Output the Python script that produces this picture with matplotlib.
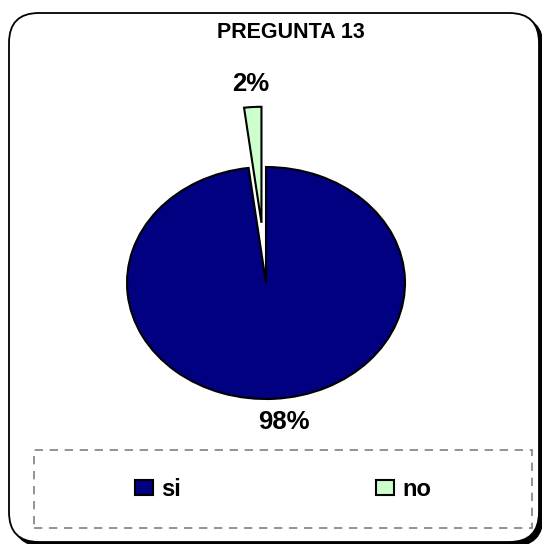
import matplotlib.pyplot as plt
from matplotlib.patches import FancyBboxPatch, Rectangle

# data
categories = ['si', 'no']
values = [98, 2]
colors = ['#000080', '#CCFFCC']
title = 'PREGUNTA 13'

W, H = 542, 544
plt.rcParams['font.family'] = ['Liberation Sans', 'DejaVu Sans']

fig = plt.figure(figsize=(W / 100, H / 100), dpi=100)

# rounded chart border with shadow (runs slightly past the image edge)
shadow = FancyBboxPatch((13 / W, -2 / H), 530 / W, 529 / H,
                        boxstyle='round,pad=0,rounding_size=0.055',
                        transform=fig.transFigure, facecolor='black',
                        edgecolor='black', zorder=-3)
border = FancyBboxPatch((9 / W, 2 / H), 530 / W, 529 / H,
                        boxstyle='round,pad=0,rounding_size=0.055',
                        transform=fig.transFigure, facecolor='white',
                        edgecolor='black', linewidth=1.3, zorder=-2)
fig.patches.extend([shadow, border])

ax = fig.add_axes([127 / W, 145 / H, 278 / W, 301.6 / H])
wedges, texts = ax.pie(values, explode=[0, 0.52], startangle=90,
                       counterclock=False, colors=colors,
                       labels=[f'{v}%' for v in values], labeldistance=1.2,
                       wedgeprops=dict(edgecolor='black', linewidth=1.5),
                       textprops=dict(fontsize=18.5, fontweight='bold'))
for t in texts:
    t.set_ha('center')
    t.set_va('center')
x0, y0 = texts[0].get_position()
texts[0].set_position((x0 + 0.05, y0))
for w in wedges:
    w.set_clip_on(False)
ax.set_aspect('auto')
ax.set_xlim(-1, 1)
ax.set_ylim(-1, 1.6)
ax.axis('off')

fig.text(291 / W, 1 - 33 / H, title, ha='center', va='center',
         fontsize=15.5, fontweight='bold')

# legend with dashed frame
box = Rectangle((34 / W, 16 / H), 498 / W, 78 / H, transform=fig.transFigure,
                fill=False, edgecolor='#808080', linestyle=(0, (5, 4)),
                linewidth=1.2, zorder=-1)
fig.patches.append(box)
fig.legend(handles=wedges, labels=categories, loc='center',
           bbox_to_anchor=(283 / W, 1 - 489 / H), ncol=2, frameon=False,
           prop=dict(size=17, weight='bold'), handlelength=0.76,
           handleheight=0.59, handletextpad=0.34, columnspacing=8.3)

fig.savefig('out.png', dpi=100)
